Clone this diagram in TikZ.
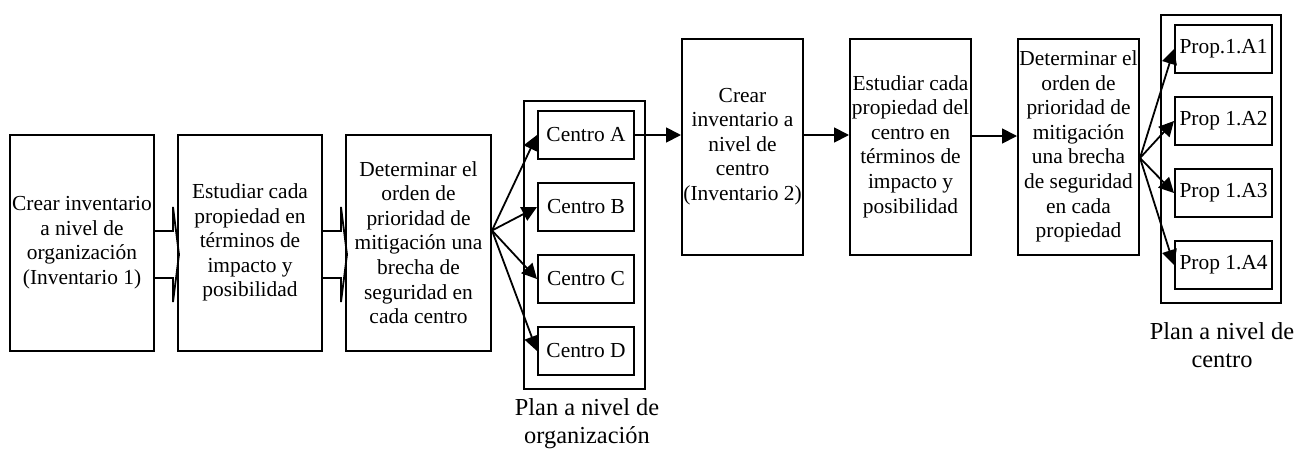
\documentclass[tikz,border=0pt]{standalone}
\usepackage{fontspec}
\setmainfont{Liberation Serif}
\usetikzlibrary{arrows.meta}
\begin{document}
\begin{tikzpicture}[x=0.5pt,y=-0.5pt,
  >={Triangle[length=7.5pt,width=7.5pt]},
  paso/.style={draw, line width=1pt, align=center, inner sep=0pt, minimum height=108pt, font=\fontsize{10.7}{12.3}\selectfont},
  marco/.style={draw, line width=1pt, inner sep=0pt, minimum width=60.5pt, minimum height=144pt},
  item/.style={draw, line width=1pt, inner sep=0pt, minimum width=48pt, minimum height=24pt, font=\fontsize{10.7}{12.3}\selectfont},
  nota/.style={align=center, font=\fontsize{12.2}{14}\selectfont},
  flecha/.style={draw, line width=0.9pt, ->}]

\useasboundingbox (0,0) rectangle (1295,450);

% plan a nivel de organizacion
\node[paso, minimum width=72pt] (b1) at (82,242.5) {Crear inventario\\a nivel de\\organización\\(Inventario 1)};
\node[paso, minimum width=72pt] (b2) at (250,242.5) {Estudiar cada\\propiedad en\\términos de\\impacto y\\posibilidad};
\node[paso, minimum width=72.5pt] (b3) at (418.5,242.5) {Determinar el\\orden de\\prioridad de\\mitigación una\\brecha de\\seguridad en\\cada centro};

\node[marco] (org) at (584.5,245) {};
\node[item] (cA) at (586,135) {Centro A};
\node[item] (cB) at (586,207) {Centro B};
\node[item] (cC) at (586,279) {Centro C};
\node[item] (cD) at (586,351) {Centro D};
\node[nota] (lorg) at (587,424) {Plan a nivel de\\organización};

% plan a nivel de centro
\node[paso, minimum width=60.5pt] (b4) at (742.5,146.5) {Crear\\inventario a\\nivel de\\centro\\(Inventario 2)};
\node[paso, minimum width=60.5pt] (b5) at (910.5,146.5) {Estudiar cada\\propiedad del\\centro en\\términos de\\impacto y\\posibilidad};
\node[paso, minimum width=60.5pt] (b6) at (1078.5,146.5) {Determinar el\\orden de\\prioridad de\\mitigación\\una brecha\\de seguridad\\en cada\\propiedad};

\node[marco, minimum width=60pt] (ctr) at (1221,158.5) {};
\node[item, minimum width=48.5pt] (p1) at (1223.5,49) {Prop.1.A1};
\node[item, minimum width=48.5pt] (p2) at (1223.5,121) {Prop 1.A2};
\node[item, minimum width=48.5pt] (p3) at (1223.5,193) {Prop 1.A3};
\node[item, minimum width=48.5pt] (p4) at (1223.5,265) {Prop 1.A4};
\node[nota] (lctr) at (1222,345) {Plan a nivel de\\centro};

% flechas anchas
\draw[line width=0.9pt] (b1.east) ++(0,-11.5) -- ++(18,0) -- ++(0,-24) -- ++(6,47.5) -- ++(-6,47.5) -- ++(0,-24) -- ++(-18,0);
\draw[line width=0.9pt] (b2.east) ++(0,-11.5) -- ++(18,0) -- ++(0,-24) -- ++(6,47.5) -- ++(-6,47.5) -- ++(0,-24) -- ++(-18,0);

% flechas
\coordinate (f1) at ([yshift=6pt]b3.east);
\foreach \c in {A,B,C,D}
  \path[flecha] (f1) -- (c\c.west);
\path[flecha] (cA.east) -- (cA.east -| b4.west);
\path[flecha] ([yshift=5.75pt]b4.east) -- ([yshift=5.75pt]b5.west);
\path[flecha] ([yshift=5.25pt]b5.east) -- ([yshift=5.25pt]b6.west);
\coordinate (f2) at ([yshift=-5.75pt]b6.east);
\foreach \p in {1,...,4}
  \path[flecha] (f2) -- (p\p.west);
\end{tikzpicture}
\end{document}
